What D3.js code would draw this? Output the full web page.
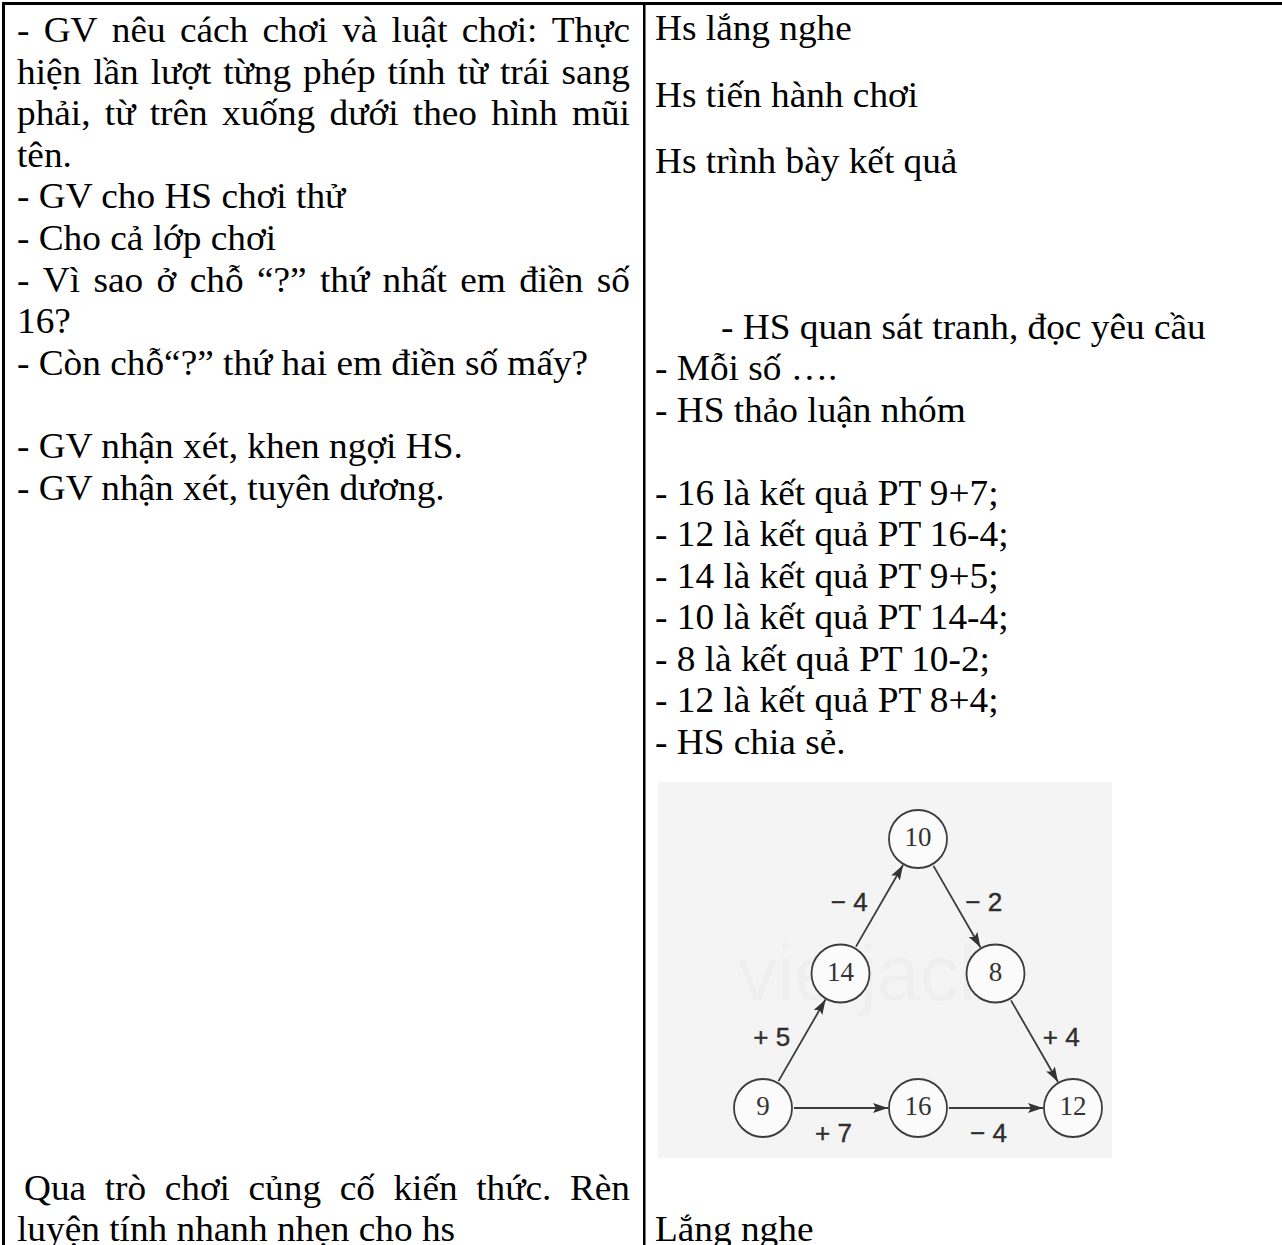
<!DOCTYPE html>
<html>
<head>
<meta charset="utf-8">
<script src="https://cdn.jsdelivr.net/npm/d3@7"></script>
<style>
  html, body { margin: 0; padding: 0; background: #fff; }
  svg { display: block; }
</style>
</head>
<body>
<svg id="chart" width="1282" height="1245"></svg>
<script>
// ---------------- DATA ----------------
const leftLines = [
  { t: "- GV nêu cách chơi và luật chơi: Thực", j: true },
  { t: "hiện lần lượt từng phép tính từ trái sang", j: true },
  { t: "phải, từ trên xuống dưới theo hình mũi", j: true },
  { t: "tên.", j: false },
  { t: "- GV cho HS chơi thử", j: false },
  { t: "- Cho cả lớp chơi", j: false },
  { t: "- Vì sao ở chỗ “?” thứ nhất em điền số", j: true },
  { t: "16?", j: false },
  { t: "- Còn chỗ“?” thứ hai em điền số mấy?", j: false },
  { t: "", j: false },
  { t: "- GV nhận xét, khen ngợi HS.", j: false },
  { t: "- GV nhận xét, tuyên dương.", j: false }
];
const leftBottomLines = [
  { t: "Qua trò chơi củng cố kiến thức. Rèn", j: true },
  { t: "luyện tính nhanh nhẹn cho hs", j: false }
];
const rightTopParas = ["Hs lắng nghe", "Hs tiến hành chơi", "Hs trình bày kết quả"];
const rightIndented = "- HS quan sát tranh, đọc yêu cầu";
const rightLines = [
  "- Mỗi số ….",
  "- HS thảo luận nhóm",
  "",
  "- 16 là kết quả PT 9+7;",
  "- 12 là kết quả PT 16-4;",
  "- 14 là kết quả PT 9+5;",
  "- 10 là kết quả PT 14-4;",
  "- 8 là kết quả PT 10-2;",
  "- 12 là kết quả PT 8+4;",
  "- HS chia sẻ."
];
const rightBottom = "Lắng nghe";

// diagram: number circles on a triangular lattice (col, row)
const nodeValues = [9, 14, 10, 8, 12, 16];
const nodeCols   = [0, 0.5, 1, 1.5, 2, 1];
const nodeRows   = [2, 1, 0, 1, 2, 2];
const edgeFrom   = [0, 1, 2, 3, 0, 5];
const edgeTo     = [1, 2, 3, 4, 5, 4];
const edgeLabels = ["+ 5", "− 4", "− 2", "+ 4", "+ 7", "− 4"];

// ---------------- LAYOUT ----------------
const svg = d3.select("#chart");
const FONT = "'Liberation Serif', 'Times New Roman', serif";
const SANS = "'Liberation Sans', Arial, sans-serif";
const FS = 35;          // font size
const SX = 1.066;       // horizontal stretch of the scanned page
const LH = 41.6;        // line height

svg.append("rect").attr("width", 1282).attr("height", 1245).attr("fill", "#fff");

// measuring helper
const meas = svg.append("text").attr("font-family", FONT).attr("font-size", FS)
  .attr("x", -1000).attr("y", -1000);
function textW(s) { meas.text(s); return meas.node().getComputedTextLength(); }

function drawLine(x, y, text, justifyRight) {
  if (!text) return;
  const g = svg.append("g").attr("transform", `translate(${x},${y}) scale(${SX},1)`)
    .attr("font-family", FONT).attr("font-size", FS).attr("fill", "#000");
  if (justifyRight) {
    const words = text.split(" ");
    const ws = words.map(textW);
    const total = d3.sum(ws);
    const avail = (justifyRight - x) / SX;
    const gap = (avail - total) / (words.length - 1);
    let cx = 0;
    words.forEach((w, i) => {
      g.append("text").attr("x", cx).attr("y", 0).text(w);
      cx += ws[i] + gap;
    });
  } else {
    g.append("text").attr("x", 0).attr("y", 0).text(text);
  }
}

// table borders
svg.append("rect").attr("x", 2).attr("y", 2).attr("width", 1280).attr("height", 3).attr("fill", "#000");
svg.append("rect").attr("x", 2).attr("y", 2).attr("width", 3).attr("height", 1243).attr("fill", "#000");
svg.append("rect").attr("x", 643).attr("y", 2).attr("width", 2.5).attr("height", 1243).attr("fill", "#000");

// left column
const LX = 17, LR = 630;
leftLines.forEach((d, i) => drawLine(LX, 42 + i * LH, d.t, d.j ? LR : null));
drawLine(24, 1200, leftBottomLines[0].t, LR);
drawLine(LX, 1241, leftBottomLines[1].t, null);

// right column
const RX = 655;
rightTopParas.forEach((t, i) => drawLine(RX, 40 + i * 66.5, t, null));
drawLine(721, 339, rightIndented, null);
rightLines.forEach((t, i) => drawLine(RX, 380 + i * 41.5, t, null));
drawLine(RX, 1241, rightBottom, null);

// ---------------- DIAGRAM ----------------
const dg = svg.append("g");
dg.append("rect").attr("x", 658).attr("y", 782).attr("width", 454).attr("height", 376).attr("fill", "#f4f4f4");
dg.append("text").attr("x", 738).attr("y", 1000).attr("font-family", SANS)
  .attr("font-size", 78).attr("fill", "#efefef").text("vietjack");

const xS = d3.scaleLinear().domain([0, 2]).range([763, 1073]);
const yS = d3.scaleLinear().domain([0, 2]).range([839, 1108]);
const R = 29;

const defs = svg.append("defs");
defs.append("marker").attr("id", "arr").attr("markerUnits", "userSpaceOnUse")
  .attr("viewBox", "-15 -6 16 12").attr("refX", 0).attr("refY", 0)
  .attr("markerWidth", 16).attr("markerHeight", 12).attr("orient", "auto")
  .append("path").attr("d", "M0,0 L-15,-5 L-12,0 L-15,5 Z").attr("fill", "#333");

const nodes = nodeValues.map((v, i) => ({ v, x: xS(nodeCols[i]), y: yS(nodeRows[i]) }));
const cx0 = d3.mean([nodes[0], nodes[2], nodes[4]], d => d.x);

edgeFrom.forEach((f, i) => {
  const a = nodes[f], b = nodes[edgeTo[i]];
  const dx = b.x - a.x, dy = b.y - a.y, L = Math.hypot(dx, dy);
  const ux = dx / L, uy = dy / L;
  dg.append("line")
    .attr("x1", a.x + ux * (R + 2)).attr("y1", a.y + uy * (R + 2))
    .attr("x2", b.x - ux * (R + 1)).attr("y2", b.y - uy * (R + 1))
    .attr("stroke", "#3c3c3c").attr("stroke-width", 1.8).attr("marker-end", "url(#arr)");
  // label placed beside the arrow, outside the triangle
  const mx = (a.x + b.x) / 2, my = (a.y + b.y) / 2;
  const flat = Math.abs(uy) < 0.01;
  const lx = flat ? mx - 7 : mx + (mx < cx0 ? -30 : 27);
  const ly = flat ? my + 25 : my - 4;
  dg.append("text").attr("x", lx).attr("y", ly)
    .attr("text-anchor", "middle").attr("dominant-baseline", "central")
    .attr("font-family", SANS).attr("font-size", 26)
    .attr("fill", "#2e2e2e").attr("stroke", "#2e2e2e").attr("stroke-width", 0.4)
    .text(edgeLabels[i]);
});

const ng = dg.selectAll("g.node").data(nodes).enter().append("g")
  .attr("transform", d => `translate(${d.x},${d.y})`);
ng.append("circle").attr("r", R).attr("fill", "#fbfbfb").attr("stroke", "#3c3c3c").attr("stroke-width", 1.8);
ng.append("text").attr("text-anchor", "middle").attr("dominant-baseline", "central")
  .attr("font-family", FONT).attr("font-size", 27).attr("fill", "#333")
  .attr("y", -2).text(d => d.v);

meas.remove();
</script>
</body>
</html>
